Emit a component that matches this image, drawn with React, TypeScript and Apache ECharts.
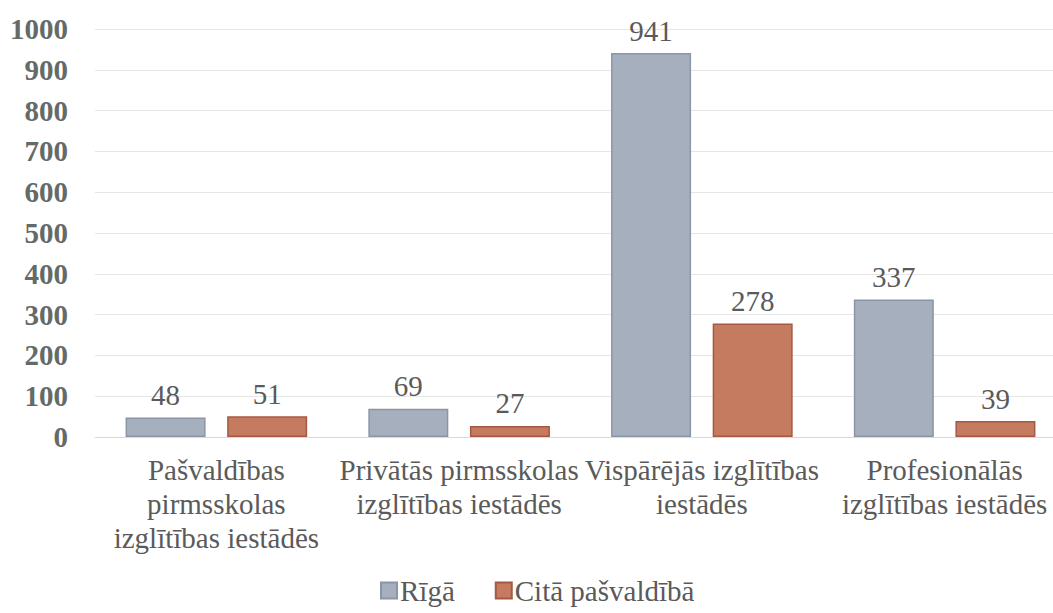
import React, { useEffect, useRef } from "react";
import * as echarts from "echarts";

const categories = [
  "Pašvaldības\npirmsskolas\nizglītības iestādēs",
  "Privātās pirmsskolas\nizglītības iestādēs",
  "Vispārējās izglītības\niestādēs",
  "Profesionālās\nizglītības iestādēs",
];
const rigaValues = [48, 69, 941, 337];
const otherValues = [51, 27, 278, 39];
const seriesNames = ["Rīgā", "Citā pašvaldībā"];

const FONT = "Liberation Serif";
const FS = 29;

export default function App() {
  const ref = useRef<HTMLDivElement>(null);
  useEffect(() => {
    if (!ref.current) return;
    const chart = echarts.init(ref.current, undefined, { renderer: "svg" });
    const labelStyle = {
      show: true,
      position: "top" as const,
      distance: 8,
      fontFamily: FONT,
      fontSize: FS,
      color: "#5a5a5a",
    };
    chart.setOption({
      animation: false,
      backgroundColor: "#ffffff",
      grid: { left: 95, right: 0, top: 29, bottom: 176, containLabel: false },
      legend: {
        bottom: 3,
        left: 375,
        icon: "rect",
        itemWidth: 16,
        itemHeight: 16,
        itemGap: 40,
        textStyle: { fontFamily: FONT, fontSize: FS, color: "#5a5a5a", padding: [0, 0, 0, -2] },
        data: seriesNames,
      },
      xAxis: {
        type: "category",
        data: categories,
        axisLine: { show: true, lineStyle: { color: "#d9d9d9", width: 1 } },
        axisTick: { show: false },
        axisLabel: {
          interval: 0,
          margin: 16,
          fontFamily: FONT,
          fontSize: FS,
          lineHeight: 34,
          color: "#5a5a5a",
        },
      },
      yAxis: {
        type: "value",
        min: 0,
        max: 1000,
        interval: 100,
        axisLine: { show: false },
        axisTick: { show: false },
        splitLine: { lineStyle: { color: "#e6e6e6", width: 1 } },
        axisLabel: {
          margin: 27,
          fontFamily: FONT,
          fontSize: FS,
          fontWeight: "bold",
          color: "#646a68",
          formatter: (v: number) => String(v),
        },
      },
      series: [
        {
          name: seriesNames[0],
          type: "bar",
          data: rigaValues,
          barWidth: 80,
          barGap: "27%",
          itemStyle: { color: "#a6afbe", borderColor: "#8a95a7", borderWidth: 1.5 },
          label: labelStyle,
        },
        {
          name: seriesNames[1],
          type: "bar",
          data: otherValues,
          barWidth: 80,
          barGap: "27%",
          itemStyle: { color: "#c47b60", borderColor: "#a65842", borderWidth: 1.5 },
          label: labelStyle,
        },
      ],
    });
    return () => chart.dispose();
  }, []);
  return (
    <div
      ref={ref}
      style={{ position: "fixed", left: 0, top: 0, width: 1066, height: 613 }}
    />
  );
}
